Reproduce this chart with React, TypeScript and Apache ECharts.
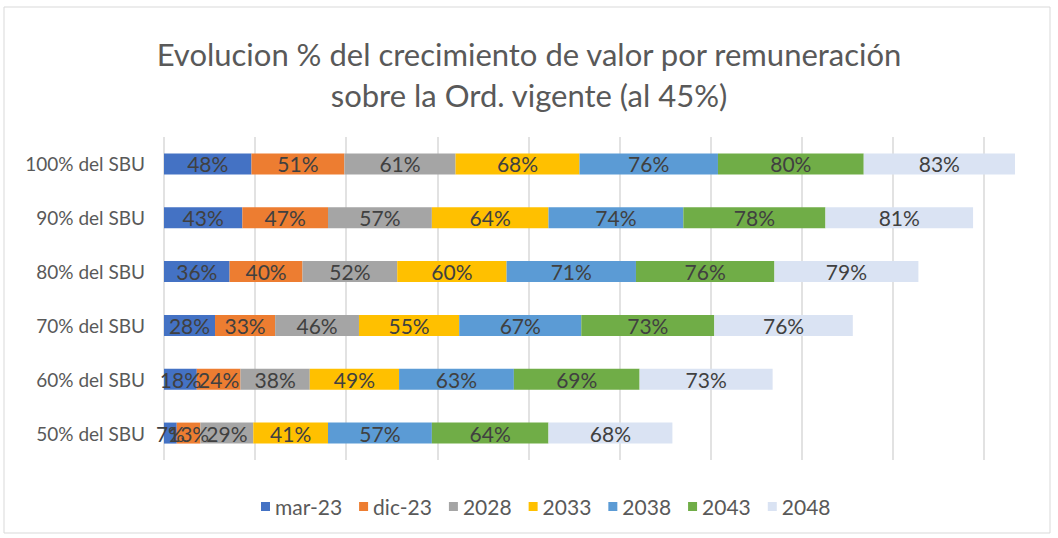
import React, { useEffect, useRef } from "react";
import * as echarts from "echarts";

const categories = ["50% del SBU", "60% del SBU", "70% del SBU", "80% del SBU", "90% del SBU", "100% del SBU"];
const seriesNames = ["mar-23", "dic-23", "2028", "2033", "2038", "2043", "2048"];
const mar23 = [7, 18, 28, 36, 43, 48];
const dic23 = [13, 24, 33, 40, 47, 51];
const y2028 = [29, 38, 46, 52, 57, 61];
const y2033 = [41, 49, 55, 60, 64, 68];
const y2038 = [57, 63, 67, 71, 74, 76];
const y2043 = [64, 69, 73, 76, 78, 80];
const y2048 = [68, 73, 76, 79, 81, 83];
const seriesValues = [mar23, dic23, y2028, y2033, y2038, y2043, y2048];
const colors = ["#4472C4", "#ED7D31", "#A5A5A5", "#FFC000", "#5B9BD5", "#70AD47", "#DAE3F3"];

export default function App() {
  const ref = useRef<HTMLDivElement>(null);
  useEffect(() => {
    document.body.style.margin = "0";
    const chart = echarts.init(ref.current!, null, { renderer: "svg" });
    const font = "Lato, 'Open Sans', sans-serif";
    chart.setOption({
      animation: false,
      backgroundColor: "#ffffff",
      title: {
        text: "Evolucion % del crecimiento de valor por remuneración\nsobre la Ord. vigente (al 45%)",
        left: "center",
        top: 28,
        textStyle: { fontFamily: font, fontSize: 31, fontWeight: "normal", color: "#595959", lineHeight: 41 },
      },
      graphic: [
        {
          type: "rect",
          shape: { x: 4, y: 7, width: 1046, height: 526 },
          style: { fill: "none", stroke: "#d9d9d9", lineWidth: 1 },
          silent: true,
        },
      ],
      legend: {
        bottom: 16,
        left: 256,
        itemWidth: 9,
        itemHeight: 9,
        itemGap: 17,
        icon: "rect",
        textStyle: { fontFamily: font, fontSize: 21, color: "#595959" },
        data: seriesNames,
      },
      grid: { left: 164, top: 137, width: 820, height: 323, containLabel: false },
      xAxis: {
        type: "value",
        min: 0,
        max: 450,
        interval: 50,
        axisLabel: { show: false },
        axisLine: { show: false },
        axisTick: { show: false },
        splitLine: { show: true, lineStyle: { color: "#d9d9d9", width: 1.5 } },
      },
      yAxis: {
        type: "category",
        data: categories,
        axisTick: { show: false },
        axisLine: { show: false },
        axisLabel: { fontFamily: font, fontSize: 19, color: "#595959", margin: 19 },
      },
      series: seriesNames.map((name, i) => ({
        name,
        type: "bar",
        stack: "total",
        barWidth: 21,
        clip: false,
        data: seriesValues[i],
        itemStyle: { color: colors[i] },
        label: {
          show: true,
          position: "inside",
          formatter: (p: any) => `${p.value}%`,
          fontFamily: font,
          fontSize: 21,
          color: "#404040",
        },
      })),
    });
    return () => chart.dispose();
  }, []);
  return <div ref={ref} style={{ width: 1058, height: 538 }} />;
}
